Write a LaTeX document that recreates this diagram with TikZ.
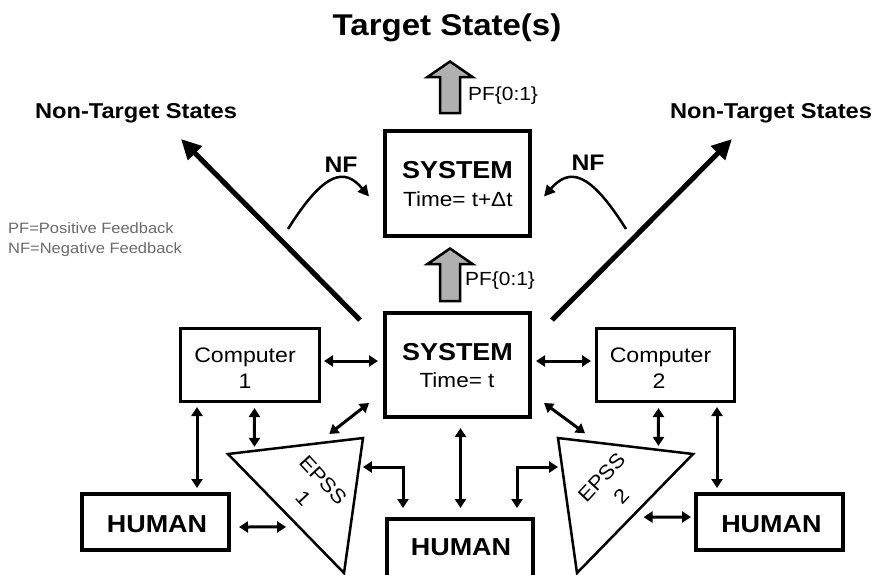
\documentclass[tikz,border=0pt]{standalone}
\usepackage{fontspec}
\setmainfont{Liberation Sans}[FakeStretch=1.1]
\usetikzlibrary{arrows.meta,calc}
\definecolor{blockgray}{HTML}{B0B0B0}
\definecolor{legendgray}{HTML}{6A6A6A}
\newcommand\setfs[1]{\fontsize{#1}{#1}\selectfont}
\begin{document}
\begin{tikzpicture}[x=1pt,y=-1pt,
  boxthick/.style={draw,line width=4pt,inner sep=0pt},
  boxthin/.style={draw,line width=3pt,inner sep=0pt},
  lbl/.style={anchor=base,inner sep=0pt},
  tri/.style={draw,line width=2.5pt,line join=miter},
  bi/.style={line width=3pt,{Triangle[length=9pt,width=11pt]}-{Triangle[length=9pt,width=11pt]}},
  bigarrow/.style={line width=5pt,-{Triangle[length=20pt,width=19pt]}},
  nfarrow/.style={line width=2.5pt,-{Triangle[length=11pt,width=11pt]}},
  block/.style={draw,line width=2.5pt,fill=blockgray,line join=miter},
  titlefont/.style={font=\setfs{30}\bfseries},
  headfont/.style={font=\setfs{21.5}\bfseries},
  sysfont/.style={font=\setfs{24.5}\bfseries},
  timefont/.style={font=\setfs{20.5}},
  compfont/.style={font=\setfs{21}},
  humanfont/.style={font=\setfs{24.5}\bfseries},
  pffont/.style={font=\setfs{19}},
  nffont/.style={font=\setfs{22.5}\bfseries},
  epssfont/.style={font=\fontsize{20}{27}\selectfont,align=center,inner sep=0pt},
  legendfont/.style={font=\setfs{15},text=legendgray}]
\useasboundingbox (0,0) rectangle (883,574);

% boxes
\node[boxthick,minimum width=145pt,minimum height=105pt] (sysT) at (457.5,183.5) {};
\node[boxthick,minimum width=145pt,minimum height=104pt] (sysB) at (457.5,365) {};
\node[boxthin,minimum width=139pt,minimum height=73pt] (c1) at (250,365) {};
\node[boxthin,minimum width=138pt,minimum height=73pt] (c2) at (665.5,365) {};
\node[boxthick,minimum width=147pt,minimum height=56pt] (hL) at (155.5,522) {};
\node[boxthick,minimum width=147pt,minimum height=56pt] (hR) at (769.5,522) {};
\node[boxthick,minimum width=146pt,minimum height=69pt] (hB) at (460,553.5) {};

% EPSS triangles
\coordinate (A1) at (228,454);
\coordinate (B1) at (363,438);
\coordinate (C1) at (344,573);
\coordinate (A2) at (558,438);
\coordinate (B2) at (693,454);
\coordinate (C2) at (577,573);
\draw[tri] (A1) -- (B1) -- (C1) -- cycle;
\draw[tri] (A2) -- (B2) -- (C2) -- cycle;

% texts
\node[lbl,titlefont] (title) at (447,35) {Target State(s)};
\node[lbl,headfont] (ntLtext) at (136,118) {Non-Target States};
\node[lbl,headfont] (ntRtext) at (771,118) {Non-Target States};
\node[lbl,sysfont] (sysTname) at (457.5,178) {SYSTEM};
\node[lbl,timefont] (sysTtime) at (457.8,206.5) {Time= t+Δt};
\node[lbl,sysfont] (sysBname) at (457.5,360) {SYSTEM};
\node[lbl,timefont] (sysBtime) at (457,387) {Time= t};
\node[lbl,compfont] (c1name) at (245,362.5) {Computer};
\node[lbl,compfont] (c1num) at (245,388) {1};
\node[lbl,compfont] (c2name) at (660.5,362.5) {Computer};
\node[lbl,compfont] (c2num) at (659,388) {2};
\node[lbl,humanfont] (hLtext) at (157,532) {HUMAN};
\node[lbl,humanfont] (hRtext) at (771.4,532) {HUMAN};
\node[lbl,humanfont] (hBtext) at (461,555) {HUMAN};
\node[epssfont,rotate=-47] (e1text) at (313.3,489.2) {EPSS\\1};
\node[epssfont,rotate=47] (e2text) at (611.3,486.6) {EPSS\\2};
\node[lbl,pffont,anchor=base west] (pfTop) at (468,100) {PF\{0:1\}};
\node[lbl,pffont,anchor=base west] (pfBot) at (465,285) {PF\{0:1\}};
\node[lbl,nffont] (nfLtext) at (341,172.5) {NF};
\node[lbl,nffont] (nfRtext) at (588,170) {NF};
\node[lbl,legendfont,anchor=base west] (leg1) at (8,233) {PF=Positive Feedback};
\node[lbl,legendfont,anchor=base west] (leg2) at (8,253) {NF=Negative Feedback};

% positive feedback block arrows
\draw[block] (440,113) -- (440,77) -- (427.5,77) -- (450,61.5) -- (472.5,77)
  -- (460,77) -- (460,113) -- cycle;
\draw[block] (440,301) -- (440,264) -- (427.5,264) -- (450,248.5) -- (472.5,264)
  -- (460,264) -- (460,301) -- cycle;

% paths to the non-target states
\coordinate (ntL) at (181,139);
\coordinate (ntR) at (732,139);
\draw[bigarrow] ($(sysB.north west)+(-23,9)$) -- (ntL);
\draw[bigarrow] ($(sysB.north east)+(20,9)$) -- (ntR);

% negative feedback
\coordinate (nfL) at (288,229);
\coordinate (nfR) at (626,229);
\draw[nfarrow] (nfL) .. controls (325,170) and (345,168) .. ($(sysT.west)+(-14,13)$);
\draw[nfarrow] (nfR) .. controls (589,170) and (569,168) .. ($(sysT.east)+(12,13)$);

% two-way links
\draw[bi] ($(c1.east)+(3,-4)$) -- ($(sysB.west)+(-5,-4)$);
\draw[bi] ($(sysB.east)+(4,-4)$) -- ($(c2.west)+(-4,-4)$);
\draw[bi] ($(c1.south west)+(18,4)$) -- ($(hL.north west)+(117,-4)$);
\draw[bi] ($(c1.south west)+(75.5,5)$) -- ($(A1)!0.196!(B1)+(0,-4)$);
\draw[bi] ($(sysB.south west)+(-14,-16)$) -- ($(B1)!0.25!(A1)+(0,-8)$);
\draw[bi] ($(sysB.south east)+(12,-16)$) -- ($(A2)!0.2!(B2)+(0,-8)$);
\draw[bi] ($(c2.south west)+(63.5,5)$) -- ($(A2)!0.744!(B2)+(0,-4)$);
\draw[bi] ($(c2.south west)+(122,4)$) -- ($(hR.north west)+(23,-4)$);
\draw[bi] ($(sysB.south)+(3,9)$) -- ($(hB.north)+(0.5,-9)$);
\draw[bi] ($(hL.east)+(8,5)$) -- ($(A1)!0.613!(C1)+(-13,0)$);
\draw[bi] ($(B2)!0.53!(C2)+(12,0)$) -- ($(hR.west)+(-3,-5)$);
\draw[bi] ($(B1)!0.215!(C1)+(4,0)$) -| ($(hB.north west)+(18,-9)$);
\draw[bi] ($(hB.north west)+(132,-9)$) |- ($(A2)!0.215!(C2)+(-4,0)$);
\end{tikzpicture}
\end{document}
